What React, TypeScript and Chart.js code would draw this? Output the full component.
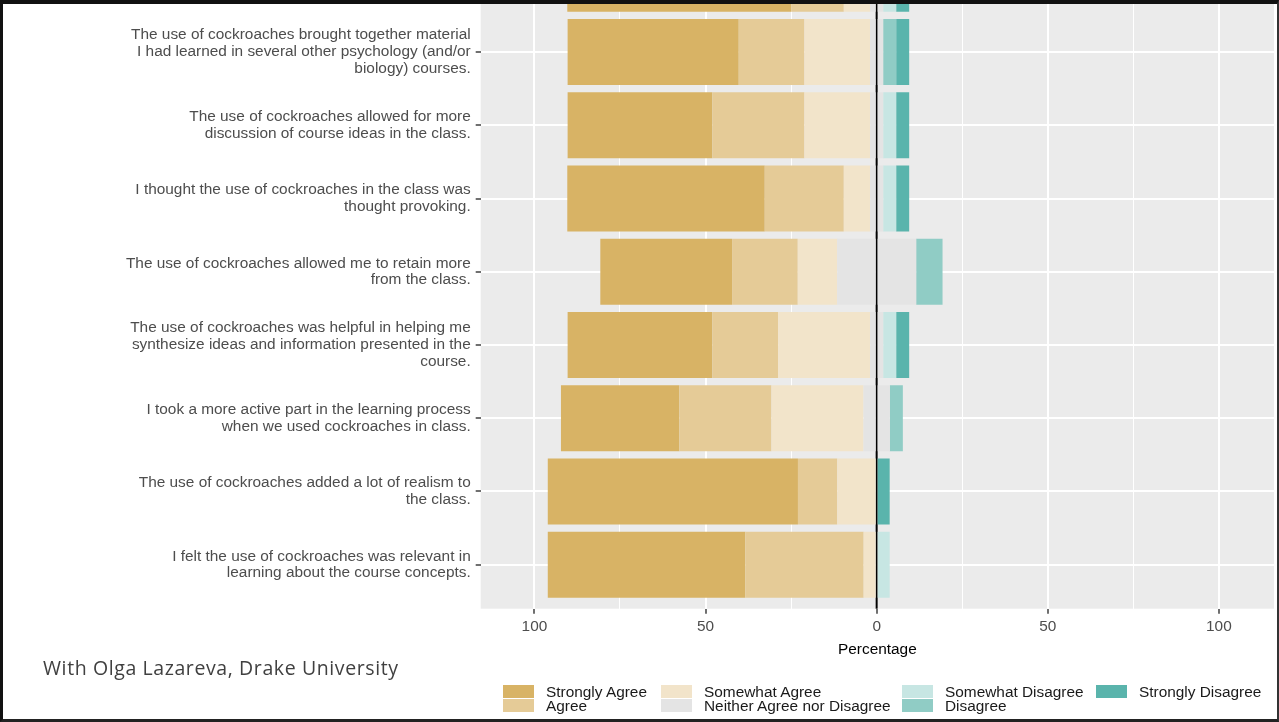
import React, { useEffect, useRef } from "react";
import { Chart, registerables } from "chart.js";

Chart.register(...registerables);

// ---- data (percent of respondents) ----
const STATEMENTS: string[][] = [
  [""],
  [
    "The use of cockroaches brought together material",
    "I had learned in several other psychology (and/or",
    "biology) courses.",
  ],
  ["The use of cockroaches allowed for more", "discussion of course ideas in the class."],
  ["I thought the use of cockroaches in the class was", "thought provoking."],
  ["The use of cockroaches allowed me to retain more", "from the class."],
  [
    "The use of cockroaches was helpful in helping me",
    "synthesize ideas and information presented in the",
    "course.",
  ],
  ["I took a more active part in the learning process", "when we used cockroaches in class."],
  ["The use of cockroaches added a lot of realism to", "the class."],
  ["I felt the use of cockroaches was relevant in", "learning about the course concepts."],
];

const STRONGLY_AGREE = [65.4, 50.0, 42.3, 57.7, 38.5, 42.3, 34.6, 73.1, 57.7];
const AGREE = [15.4, 19.2, 26.9, 23.1, 19.2, 19.2, 26.9, 11.5, 34.6];
const SOMEWHAT_AGREE = [7.7, 19.2, 19.2, 7.7, 11.5, 26.9, 26.9, 11.5, 3.8];
const NEUTRAL = [3.8, 3.8, 3.8, 3.8, 23.1, 3.8, 7.7, 0, 0];
const SOMEWHAT_DISAGREE = [3.8, 0, 3.8, 3.8, 0, 3.8, 0, 0, 3.8];
const DISAGREE = [0, 3.8, 0, 0, 7.7, 0, 3.8, 0, 0];
const STRONGLY_DISAGREE = [3.8, 3.8, 3.8, 3.8, 0, 3.8, 0, 3.8, 0];

const SERIES_NAMES = [
  "Strongly Agree",
  "Agree",
  "Somewhat Agree",
  "Neither Agree nor Disagree",
  "Somewhat Disagree",
  "Disagree",
  "Strongly Disagree",
];

const X_TICKS = [-100, -75, -50, -25, 0, 25, 50, 75, 100];
const X_MAJOR = [-100, -50, 0, 50, 100];

// ---- styles ----
const COLORS = ["#d8b365", "#e5cb97", "#f2e4ca", "#e4e4e4", "#c7e6e3", "#90ccc5", "#5ab4ac"];
const FONT = "'Liberation Sans', Arial, Helvetica, sans-serif";
const FS = 15.4;

const CANVAS_TOP = -87;
const CANVAS_W = 1279;
const CANVAS_H = 809;

const panelPlugin = {
  id: "panelBg",
  beforeDraw(chart: any) {
    const { ctx, chartArea } = chart;
    ctx.save();
    ctx.fillStyle = "#ebebeb";
    ctx.fillRect(chartArea.left, chartArea.top, chartArea.right - chartArea.left, chartArea.bottom - chartArea.top);
    ctx.restore();
  },
  beforeDatasetsDraw(chart: any) {
    const { ctx, chartArea } = chart;
    const x = chart.scales.x.getPixelForValue(0);
    ctx.save();
    ctx.strokeStyle = "#000";
    ctx.lineWidth = 2;
    ctx.beginPath();
    ctx.moveTo(x, chartArea.top);
    ctx.lineTo(x, chartArea.bottom);
    ctx.stroke();
    ctx.restore();
  },
};

function toPoints(values: number[], sign: number) {
  return values.map((v, i) => ({ x: sign * v, y: i }));
}

export default function App() {
  const ref = useRef<HTMLCanvasElement | null>(null);

  useEffect(() => {
    if (!ref.current) return;
    const half = NEUTRAL.map((v) => v / 2);
    const ds = (label: string, data: any[], color: string) => ({
      label,
      data,
      backgroundColor: color,
      borderWidth: 0,
      barPercentage: 0.9,
      categoryPercentage: 1,
    });
    const chart = new Chart(ref.current, {
      type: "bar",
      data: {
        datasets: [
          ds(SERIES_NAMES[3], toPoints(half, -1), COLORS[3]),
          ds(SERIES_NAMES[2], toPoints(SOMEWHAT_AGREE, -1), COLORS[2]),
          ds(SERIES_NAMES[1], toPoints(AGREE, -1), COLORS[1]),
          ds(SERIES_NAMES[0], toPoints(STRONGLY_AGREE, -1), COLORS[0]),
          ds(SERIES_NAMES[3] + " ", toPoints(half, 1), COLORS[3]),
          ds(SERIES_NAMES[4], toPoints(SOMEWHAT_DISAGREE, 1), COLORS[4]),
          ds(SERIES_NAMES[5], toPoints(DISAGREE, 1), COLORS[5]),
          ds(SERIES_NAMES[6], toPoints(STRONGLY_DISAGREE, 1), COLORS[6]),
        ] as any,
      },
      options: {
        indexAxis: "y",
        animation: false,
        responsive: false,
        maintainAspectRatio: false,
        layout: { padding: { top: 14, right: 5, bottom: 53.3, left: 0 } },
        plugins: { legend: { display: false }, tooltip: { enabled: false } },
        scales: {
          x: {
            type: "linear",
            stacked: true,
            min: -115.7,
            max: 116.1,
            afterBuildTicks: (s: any) => {
              s.ticks = X_TICKS.map((v) => ({ value: v }));
            },
            afterFit: (s: any) => {
              s.height = 60;
            },
            border: { display: false },
            grid: {
              color: "#ffffff",
              lineWidth: (c: any) => (X_MAJOR.includes(c.tick?.value) ? 2 : 1),
              drawTicks: true,
              tickLength: 5,
              tickWidth: 1.4,
              tickColor: (c: any) => (X_MAJOR.includes(c.tick?.value) ? "#333333" : "rgba(0,0,0,0)"),
            },
            ticks: {
              autoSkip: false,
              maxRotation: 0,
              padding: 4,
              color: "#4d4d4d",
              font: { family: FONT, size: FS },
              callback: (v: any) => (X_MAJOR.includes(Number(v)) ? String(Math.abs(Number(v))) : ""),
            },
            title: {
              display: true,
              text: "Percentage",
              color: "#000000",
              font: { family: FONT, size: FS },
              padding: { top: 0, bottom: 9.5 },
            },
          },
          y: {
            type: "linear",
            stacked: true,
            reverse: true,
            offset: false,
            min: -0.6,
            max: 8.6,
            afterBuildTicks: (s: any) => {
              s.ticks = STATEMENTS.map((_, i) => ({ value: i }));
            },
            afterFit: (s: any) => {
              s.width = 480.7;
            },
            border: { display: false },
            grid: {
              offset: false,
              color: "#ffffff",
              lineWidth: 2,
              drawTicks: true,
              tickLength: 5,
              tickWidth: 1.4,
              tickColor: "#333333",
            },
            ticks: {
              autoSkip: false,
              padding: 5,
              color: "#4d4d4d",
              font: { family: FONT, size: FS, lineHeight: "16.8px" } as any,
              callback: (v: any) => STATEMENTS[Number(v)] ?? "",
            },
          },
        },
      } as any,
      plugins: [panelPlugin],
    });
    return () => chart.destroy();
  }, []);

  const legendCols = [
    [0, 1],
    [2, 3],
    [4, 5],
    [6],
  ];
  const colBoxLeft = [503, 661, 902, 1096];
  const rowBoxTop = [685, 699];
  const rowTextTop = [683.7, 697.7];

  return (
    <div
      style={{
        position: "fixed",
        left: 0,
        top: 0,
        width: 1279,
        height: 722,
        overflow: "hidden",
        background: "#ffffff",
      }}
    >
      <canvas
        ref={ref}
        width={CANVAS_W}
        height={CANVAS_H}
        style={{ position: "absolute", left: 0, top: CANVAS_TOP, width: CANVAS_W, height: CANVAS_H }}
      />
      <div
        style={{
          position: "absolute",
          left: 43,
          top: 656,
          fontFamily: "'Open Sans', sans-serif",
          fontSize: 19.5,
          letterSpacing: "0.6px",
          lineHeight: "24px",
          color: "#404040",
          whiteSpace: "nowrap",
        }}
      >
        With Olga Lazareva, Drake University
      </div>
      {legendCols.map((col, ci) =>
        col.map((si, ri) => (
          <React.Fragment key={si}>
            <div
              style={{
                position: "absolute",
                left: colBoxLeft[ci],
                top: rowBoxTop[ri],
                width: 31,
                height: 13,
                background: COLORS[si],
              }}
            />
            <div
              style={{
                position: "absolute",
                left: colBoxLeft[ci] + 43,
                top: rowTextTop[ri],
                fontFamily: FONT,
                fontSize: FS,
                lineHeight: "16px",
                color: "#1a1a1a",
                whiteSpace: "nowrap",
              }}
            >
              {SERIES_NAMES[si]}
            </div>
          </React.Fragment>
        ))
      )}
      <div
        style={{
          position: "absolute",
          left: 0,
          top: 0,
          width: 1279,
          height: 722,
          boxSizing: "border-box",
          borderTop: "4px solid #111",
          borderLeft: "3px solid #111",
          borderRight: "2px solid #333",
          borderBottom: "3px solid #222",
          pointerEvents: "none",
        }}
      />
    </div>
  );
}
